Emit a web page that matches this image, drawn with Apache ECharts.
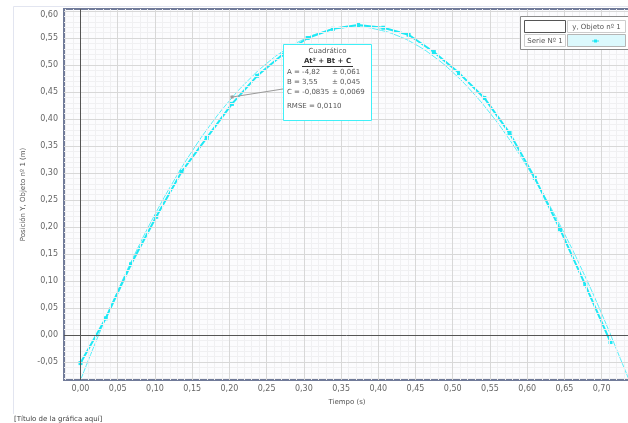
<!DOCTYPE html>
<html><head><meta charset="utf-8">
<script src="https://cdn.jsdelivr.net/npm/echarts@6/dist/echarts.min.js"></script>
<style>html,body{margin:0;padding:0;background:#fff}#c{width:628px;height:423px}</style>
</head><body><div id="c"></div>
<script>
// Measured data: time (s) and Y position (m)
const times = [0.0000, 0.0339, 0.0678, 0.1017, 0.1356, 0.1695, 0.2034, 0.2373, 0.2712, 0.3051, 0.3390,
               0.3729, 0.4068, 0.4407, 0.4746, 0.5085, 0.5424, 0.5763, 0.6102, 0.6441, 0.6780, 0.7119];
const posY  = [-0.052, 0.031, 0.131, 0.219, 0.302, 0.365, 0.428, 0.480, 0.519, 0.550, 0.567,
               0.574, 0.569, 0.556, 0.524, 0.485, 0.439, 0.374, 0.291, 0.196, 0.093, -0.013];
// Quadratic fit curve
const fitT = [0.000, 0.025, 0.050, 0.075, 0.100, 0.125, 0.150, 0.175, 0.200, 0.225, 0.250, 0.275,
              0.300, 0.325, 0.350, 0.375, 0.400, 0.425, 0.450, 0.475, 0.500, 0.525, 0.550, 0.575,
              0.600, 0.625, 0.650, 0.675, 0.700, 0.725, 0.740];
const fitY = [-0.0835, 0.0023, 0.0820, 0.1557, 0.2233, 0.2849, 0.3406, 0.3902, 0.4337, 0.4712, 0.5028, 0.5282,
              0.5477, 0.5611, 0.5686, 0.5700, 0.5653, 0.5547, 0.5380, 0.5152, 0.4865, 0.4517, 0.4110, 0.3642,
              0.3113, 0.2524, 0.1876, 0.1167, 0.0397, -0.0433, -0.0938];
const xTicks = [0.00, 0.05, 0.10, 0.15, 0.20, 0.25, 0.30, 0.35, 0.40, 0.45, 0.50, 0.55, 0.60, 0.65, 0.70];
const yTicks = [-0.05, 0.00, 0.05, 0.10, 0.15, 0.20, 0.25, 0.30, 0.35, 0.40, 0.45, 0.50, 0.55, 0.60];

const fitLines = ['Cuadrático', 'At² + Bt + C'];
const fitParams = [['A = -4,82', '± 0,061'], ['B = 3,55', '± 0,045'], ['C = -0,0835', '± 0,0069']];
const fitRmse = 'RMSE = 0,0110';

const FONT = 'DejaVu Sans';
const fmt = v => v.toFixed(2).replace('.', ',');

const chart = echarts.init(document.getElementById('c'), null, {renderer: 'canvas'});

const minorStyle = {color: '#f0f0f2', width: 1, type: 'solid'};
const majorStyle = {color: '#d8d8d8', width: 1, type: 'solid'};
const zeroStyle = {color: '#555555', width: 1, type: 'solid'};
const gridLines = [];
for (let k = -2; k <= 73; k++) if (k % 5 !== 0) gridLines.push({xAxis: k / 100, lineStyle: minorStyle});
for (let k = -8; k <= 60; k++) if (k % 5 !== 0) gridLines.push({yAxis: k / 100, lineStyle: minorStyle});
xTicks.forEach(v => { if (v !== 0) gridLines.push({xAxis: v, lineStyle: majorStyle}); });
yTicks.forEach(v => { if (v !== 0) gridLines.push({yAxis: v, lineStyle: majorStyle}); });
gridLines.push({xAxis: 0, lineStyle: zeroStyle});
gridLines.push({yAxis: 0, lineStyle: zeroStyle});

const txt = (x, y, text, opts) => Object.assign({
  type: 'text', x: x, y: y, silent: true, z: 100,
  style: Object.assign({text: text, font: '7px "' + FONT + '"', fill: '#555', textVerticalAlign: 'middle'}, opts || {})
});

const topY = yTicks[yTicks.length - 1];

chart.setOption({
  animation: false,
  backgroundColor: '#ffffff',
  grid: {left: 64, top: 9, width: 566, height: 371, show: true, backgroundColor: '#fcfcfe',
         borderColor: '#717b99', borderWidth: 2, containLabel: false, outerBoundsMode: 'none'},
  xAxis: {
    type: 'value', min: -0.0222, max: 0.7381,
    name: 'Tiempo (s)', nameLocation: 'middle', nameGap: 19,
    nameTextStyle: {fontFamily: FONT, fontSize: 7, color: '#555'},
    axisLine: {show: false},
    splitLine: {show: false},
    axisTick: {show: true, customValues: xTicks, length: 2, lineStyle: {color: '#aaa'}},
    axisLabel: {customValues: xTicks, formatter: fmt, fontFamily: FONT, fontSize: 8, color: '#666', margin: 5}
  },
  yAxis: {
    type: 'value', min: -0.0833, max: 0.6037,
    name: 'Posición Y, Objeto nº 1 (m)', nameLocation: 'middle', nameGap: 37,
    nameTextStyle: {fontFamily: FONT, fontSize: 7, color: '#555'},
    axisLine: {show: false},
    splitLine: {show: false},
    axisTick: {show: true, customValues: yTicks, length: 3, lineStyle: {color: '#aaa'}},
    axisLabel: {
      customValues: yTicks, fontFamily: FONT, fontSize: 8, color: '#666', margin: 6,
      formatter: v => Math.abs(v - topY) < 1e-9 ? '{t|' + fmt(v) + '}' : fmt(v),
      rich: {t: {fontFamily: FONT, fontSize: 8, color: '#666', padding: [7, 0, 0, 0]}}
    }
  },
  series: [
    {
      type: 'line', data: [], z: 1, silent: true,
      markLine: {silent: true, symbol: ['none', 'none'], label: {show: false}, animation: false, data: gridLines}
    },
    {
      type: 'line', z: 3, silent: true, showSymbol: false, smooth: true,
      data: fitT.map((t, i) => [t, fitY[i]]),
      lineStyle: {color: '#55eef8', width: 1}
    },
    {
      type: 'line', z: 4, silent: true,
      data: times.map((t, i) => [t, posY[i]]),
      symbol: 'rect', symbolSize: 4,
      itemStyle: {color: '#1ee8f4'},
      lineStyle: {color: '#1ee8f4', width: 2},
      markLine: {
        silent: true, symbol: ['rect', 'none'], symbolSize: 3, label: {show: false}, animation: false,
        lineStyle: {color: '#9a9a9a', width: 1, type: 'solid'},
        data: [[{coord: [0.2035, 0.4407]}, {coord: [0.2720, 0.4556]}]]
      }
    }
  ],
  graphic: [
    // outer frame lines
    {type: 'line', silent: true, shape: {x1: 13.5, y1: 6.5, x2: 628, y2: 6.5}, style: {stroke: '#e2e5f0', lineWidth: 1}},
    {type: 'line', silent: true, shape: {x1: 13.5, y1: 6.5, x2: 13.5, y2: 414}, style: {stroke: '#e2e5f0', lineWidth: 1}},
    txt(14, 419, '[Título de la gráfica aquí]', {fill: '#444'}),
    // fit annotation box
    {type: 'rect', silent: true, z: 90, shape: {x: 283.5, y: 44.5, width: 88, height: 76},
     style: {fill: '#ffffff', stroke: '#3ff0f8', lineWidth: 1}},
    txt(327.5, 51, fitLines[0], {textAlign: 'center'}),
    txt(327.5, 61.5, fitLines[1], {textAlign: 'center', font: 'bold 7px "' + FONT + '"', fill: '#333'}),
    {type: 'line', silent: true, z: 100, shape: {x1: 302, y1: 66.5, x2: 353, y2: 66.5}, style: {stroke: '#333', lineWidth: 1}},
    txt(287, 72.5, fitParams[0][0]), txt(332, 72.5, fitParams[0][1]),
    txt(287, 82.5, fitParams[1][0]), txt(332, 82.5, fitParams[1][1]),
    txt(287, 92.5, fitParams[2][0]), txt(332, 92.5, fitParams[2][1]),
    txt(287, 106.5, fitRmse),
    // legend table
    {type: 'rect', silent: true, z: 90, shape: {x: 520.5, y: 16.5, width: 112, height: 33},
     style: {fill: '#ffffff', stroke: '#8a8a8a', lineWidth: 1}},
    {type: 'rect', silent: true, z: 95, shape: {x: 524.5, y: 20.5, width: 41, height: 12},
     style: {fill: '#ffffff', stroke: '#555', lineWidth: 1}},
    {type: 'rect', silent: true, z: 95, shape: {x: 567.5, y: 20.5, width: 58, height: 12},
     style: {fill: '#ffffff', stroke: '#cccccc', lineWidth: 1}},
    txt(596.5, 27, 'y, Objeto nº 1', {textAlign: 'center'}),
    {type: 'rect', silent: true, z: 95, shape: {x: 524.5, y: 34.5, width: 41, height: 12},
     style: {fill: '#ffffff', stroke: '#cccccc', lineWidth: 1}},
    txt(545, 41, 'Serie Nº 1', {textAlign: 'center'}),
    {type: 'rect', silent: true, z: 95, shape: {x: 567.5, y: 34.5, width: 58, height: 12},
     style: {fill: '#dcf9fd', stroke: '#b5b5b5', lineWidth: 1}},
    {type: 'line', silent: true, z: 100, shape: {x1: 592, y1: 41, x2: 599, y2: 41}, style: {stroke: '#1ee8f4', lineWidth: 1}},
    {type: 'rect', silent: true, z: 100, shape: {x: 594, y: 39.5, width: 3, height: 3}, style: {fill: '#1ee8f4'}}
  ]
});
</script>
</body></html>
